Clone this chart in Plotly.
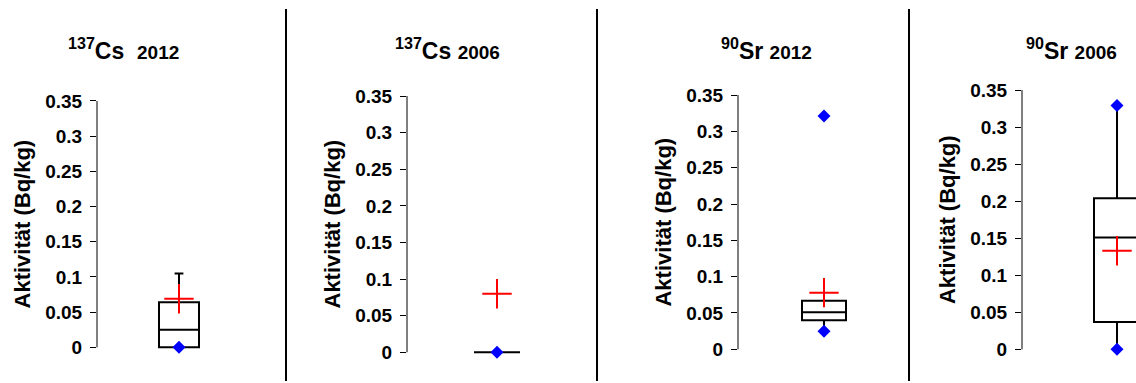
import plotly.graph_objects as go

# ---- data ----
nuclide = ["137", "137", "90", "90"]
element = ["Cs", "Cs", "Sr", "Sr"]
year = ["2012", "2006", "2012", "2006"]
q1 = [0.0, 0.0, 0.040, 0.037]
median = [0.025, 0.0, 0.051, 0.151]
q3 = [0.064, 0.0, 0.067, 0.204]
lowerfence = [0.0, 0.0, 0.025, 0.0]
upperfence = [0.105, 0.0, 0.067, 0.329]
mean = [0.069, 0.080, 0.078, 0.133]
extremes = [[0.0], [0.0], [0.025, 0.321], [0.0, 0.329]]
tick_vals = [0, 0.05, 0.1, 0.15, 0.2, 0.25, 0.3, 0.35]
tick_text = ["0", "0.05", "0.1", "0.15", "0.2", "0.25", "0.3", "0.35"]
y_title = "Aktivität (Bq/kg)"

# ---- layout geometry (pixels) ----
W, H = 1136, 383
axis_x = [97, 407, 738, 1022]
right_x = [280, 590, 902, 1136]
box_off = [82, 90, 86, 95]
box_w = [40, 46, 44, 46]
y0_px = [349, 354, 351, 351]
ytop_px = [100, 95, 94, 89]
title_cx = [123, 447, 766, 1071]
title_gap = ["\u00a0\u00a0", "\u00a0", "\u00a0", "\u00a0"]
sep_x = [286, 597, 909]
FONT = "Liberation Sans"

fig = go.Figure()
layout = dict(width=W, height=H, margin=dict(l=0, r=0, t=0, b=0),
              paper_bgcolor="white", plot_bgcolor="white", showlegend=False)
shapes = []
annotations = []
pad = 0.012
for i in range(4):
    xs = "" if i == 0 else str(i + 1)
    xa, ya = "x" + xs, "y" + xs
    fig.add_trace(go.Box(
        x=[box_off[i]], q1=[q1[i]], median=[median[i]], q3=[q3[i]],
        lowerfence=[lowerfence[i]], upperfence=[upperfence[i]],
        width=box_w[i], whiskerwidth=0.22, boxpoints=False,
        fillcolor="white", line=dict(color="black", width=2),
        xaxis=xa, yaxis=ya, hoverinfo="skip"))
    fig.add_trace(go.Scatter(
        x=[box_off[i]] * len(extremes[i]), y=extremes[i], mode="markers",
        marker=dict(symbol="diamond", size=10, color="#0000FF"),
        cliponaxis=False, xaxis=xa, yaxis=ya))
    fig.add_trace(go.Scatter(
        x=[box_off[i]], y=[mean[i]], mode="markers",
        marker=dict(symbol="cross-thin", size=21, line=dict(color="#FF0000", width=2)),
        cliponaxis=False, xaxis=xa, yaxis=ya))
    scale = (y0_px[i] - ytop_px[i]) / 0.35
    bot = y0_px[i] + pad * scale
    top = ytop_px[i] - pad * scale
    layout["xaxis" + xs] = dict(domain=[axis_x[i] / W, right_x[i] / W],
                                range=[0, right_x[i] - axis_x[i]], visible=False,
                                anchor=ya)
    layout["yaxis" + xs] = dict(
        domain=[1 - bot / H, 1 - top / H], range=[-pad, 0.35 + pad],
        anchor=xa, tickvals=tick_vals, ticktext=tick_text,
        ticks="outside", ticklen=6, tickwidth=1, tickcolor="black",
        ticklabelstandoff=4, showline=False, showgrid=False, zeroline=False,
        tickfont=dict(family=FONT, size=19, color="black", weight="bold"),
        title=dict(text=y_title, standoff=8,
                   font=dict(family=FONT, size=22, color="black", weight="bold")))
    shapes.append(dict(type="line", xref=xa + " domain", yref=ya,
                       x0=0, x1=0, y0=tick_vals[0], y1=tick_vals[-1],
                       line=dict(color="black", width=1)))
    annotations.append(dict(
        xref="paper", yref="paper", x=title_cx[i] / W, y=1 - 48 / H,
        xanchor="center", yanchor="middle", showarrow=False,
        text="<b><sup>" + nuclide[i] + "</sup>" + element[i] + title_gap[i]
             + "<span style='font-size:19px'>" + year[i] + "</span></b>",
        font=dict(family=FONT, size=23, color="black")))

for sx in sep_x:
    shapes.append(dict(type="line", xref="paper", yref="paper",
                       x0=sx / W, x1=sx / W, y0=0, y1=1 - 7 / H,
                       line=dict(color="black", width=2)))

layout["shapes"] = shapes
layout["annotations"] = annotations
fig.update_layout(**layout)
fig.write_html("out.html", config={"displayModeBar": False},
               post_script="document.body.style.margin='0';document.body.style.overflow='hidden';")
